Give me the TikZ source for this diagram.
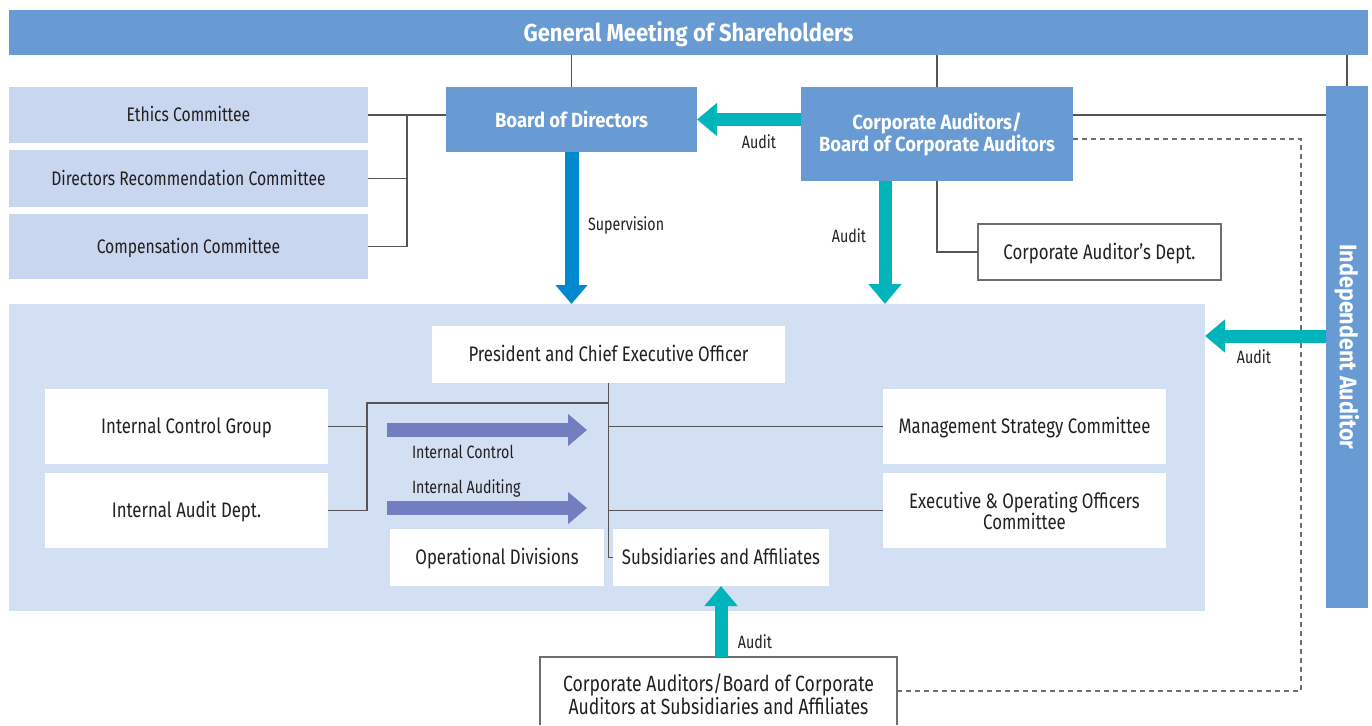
\documentclass[tikz,border=0pt]{standalone}
\usepackage{fontspec}
\setmainfont{Fira Sans}[FakeStretch=0.8]
\newfontfamily\boldf{Fira Sans}[FakeStretch=0.9]
\usetikzlibrary{arrows.meta}
\definecolor{hdrblue}{RGB}{104,155,211}
\definecolor{commblue}{RGB}{200,214,239}
\definecolor{panelblue}{RGB}{211,223,242}
\definecolor{tealc}{RGB}{0,180,188}
\definecolor{supblue}{RGB}{0,137,207}
\definecolor{purplec}{RGB}{114,126,191}
\definecolor{linegray}{RGB}{85,85,85}
\definecolor{txt}{RGB}{35,31,32}
\definecolor{bordergray}{RGB}{110,110,110}
\tikzset{
  every node/.style={inner sep=0pt, outer sep=0pt},
  hdrtext/.style={text=white, font=\boldf\bfseries\fontsize{24.5}{26}\selectfont},
  vtext/.style={text=white, font=\boldf\bfseries\fontsize{24}{26}\selectfont},
  bluebox/.style={fill=hdrblue, text=white, align=center, font=\boldf\bfseries\fontsize{20.5}{21}\selectfont},
  commbox/.style={fill=commblue, text=txt, align=center, font=\fontsize{19.6}{21}\selectfont, text height=13.5pt, text depth=0pt},
  whitebox/.style={fill=white, text=txt, align=center, font=\fontsize{21}{21}\selectfont},
  oneline/.style={text height=14.5pt, text depth=0pt},
  bottext/.style={text=txt, align=center, font=\fontsize{22}{21}\selectfont},
  outbox/.style={fill=white, draw=bordergray, line width=1.2pt, text=txt, align=center, font=\fontsize{21}{21}\selectfont, text height=14.5pt, text depth=0pt},
  lbl/.style={text=txt, font=\fontsize{17.8}{18}\selectfont},
  conn/.style={draw=linegray, line width=1.3pt},
  dashconn/.style={draw=bordergray, line width=1.2pt, dash pattern=on 5pt off 4pt},
  tealarrow/.style={draw=tealc, line width=13pt, -{Triangle[width=32pt,length=20pt]}},
  suparrow/.style={draw=supblue, line width=14pt, -{Triangle[width=31pt,length=19pt]}},
  purparrow/.style={draw=purplec, line width=14pt, -{Triangle[width=31pt,length=19pt]}}
}
\begin{document}
\begin{tikzpicture}[x=1pt,y=-1pt]
\useasboundingbox (0,0) rectangle (1372,725);
% header
\node[fill=hdrblue, minimum width=1359, minimum height=45] (gm) at (688.5,32.5) {};
\node[hdrtext] (gmtext) at ([yshift=-1.5pt]gm.center) {General Meeting of Shareholders};
% top boxes
\node[bluebox, minimum width=251, minimum height=65] (bod) at (571.5,119.5) {Board of Directors};
\node[bluebox, minimum width=272, minimum height=94] (ca) at (937,134) {Corporate Auditors/\\Board of Corporate Auditors};
\node[fill=hdrblue, minimum width=42, minimum height=522] (ia) at (1347,347) {};
\node[vtext, rotate=-90] (iatext) at (ia.center) {Independent Auditor};
% committees
\node[commbox, minimum width=359, minimum height=56] (eth) at (188.5,115) {Ethics Committee};
\node[commbox, minimum width=359, minimum height=57] (drc) at (188.5,178.5) {Directors Recommendation Committee};
\node[commbox, minimum width=359, minimum height=65] (cmp) at (188.5,246.5) {Compensation Committee};
\node[outbox, minimum width=243, minimum height=56] (dept) at (1099.5,252) {Corporate Auditor’s Dept.};
% panel
\node[fill=panelblue, minimum width=1196, minimum height=307] (panel) at (607,457.5) {};
\node[whitebox, oneline, minimum width=353, minimum height=57] (pres) at (608.5,354.5) {President and Chief Executive Officer};
\node[whitebox, oneline, minimum width=283, minimum height=75] (icg) at (186.5,426.5) {Internal Control Group};
\node[whitebox, oneline, minimum width=283, minimum height=75] (iad) at (186.5,510.5) {Internal Audit Dept.};
\node[whitebox, oneline, minimum width=283, minimum height=75] (msc) at (1024.5,426.5) {Management Strategy Committee};
\node[whitebox, minimum width=283, minimum height=75] (eooc) at (1024.5,510.5) {Executive \& Operating Officers\\Committee};
\node[whitebox, oneline, minimum width=214, minimum height=57] (opd) at (497,557.5) {Operational Divisions};
\node[whitebox, oneline, minimum width=216, minimum height=57] (subs) at (721,557.5) {Subsidiaries and Affiliates};
% bottom box
\node[fill=white, minimum width=357, minimum height=68] (bot) at (718.5,691) {};
\node[bottext] (bottxt) at ([yshift=-3.5pt]bot.center) {Corporate Auditors/Board of Corporate\\Auditors at Subsidiaries and Affiliates};
\draw[draw=bordergray, line width=1.2pt] (bot.south west) -- (bot.north west) -- (bot.north east) -- (bot.south east);
% coordinates
\coordinate (brk) at (407,0);
\coordinate (dsh) at (1301,139);
\coordinate (lb) at (367,403);
\coordinate (a2) at (885,0);
\coordinate (a3) at (0,336);
\coordinate (p1s) at (387,430);
\coordinate (p1e) at (587,430);
\coordinate (p2s) at (387,508);
\coordinate (p2e) at (587,508);
% connectors
\draw[conn] (bod.north |- gm.south) -- (bod.north);
\draw[conn] (ca.north |- gm.south) -- (ca.north);
\draw[conn] (ia.north |- gm.south) -- (ia.north);
\draw[conn] (ca.east |- eth.east) -- (ia.west |- eth.east);
\draw[conn] (eth.east) -- (bod.west |- eth.east);
\draw[conn] (drc.east) -- (brk |- drc.east);
\draw[conn] (cmp.east) -- (brk |- cmp.east) -- (brk |- eth.east);
\draw[conn] (ca.south) -- (ca.south |- dept.west) -- (dept.west);
\draw[dashconn] (ca.east |- dsh) -- (dsh) -- (dsh |- bot.east) -- (bot.east);
\draw[conn] (pres.south) -- (pres.south |- subs.west) -- (subs.west);
\draw[conn] (pres.south |- lb) -- (lb) -- (lb |- iad.east) -- (iad.east);
\draw[conn] (icg.east) -- (lb |- icg.east);
\draw[conn] (pres.south |- msc.west) -- (msc.west);
\draw[conn] (pres.south |- eooc.west) -- (eooc.west);
% arrows
\draw[tealarrow] (ca.west |- bod.east) -- (bod.east);
\draw[suparrow] (bod.south) -- (bod.south |- panel.north);
\draw[tealarrow] (a2 |- ca.south) -- (a2 |- panel.north);
\draw[tealarrow] (ia.west |- a3) -- (panel.east |- a3);
\draw[tealarrow] (bot.north -| subs.south) -- (subs.south);
\draw[purparrow] (p1s) -- (p1e);
\draw[purparrow] (p2s) -- (p2e);
% labels
\node[lbl] (l1) at (759,142) {Audit};
\node[lbl, anchor=west] (l2) at (588,225) {Supervision};
\node[lbl] (l3) at (849,236) {Audit};
\node[lbl] (l4) at (1254,357) {Audit};
\node[lbl] (l5) at (755,642) {Audit};
\node[lbl, anchor=west] (l6) at (412,452) {Internal Control};
\node[lbl, anchor=west] (l7) at (412,488) {Internal Auditing};
\end{tikzpicture}
\end{document}
